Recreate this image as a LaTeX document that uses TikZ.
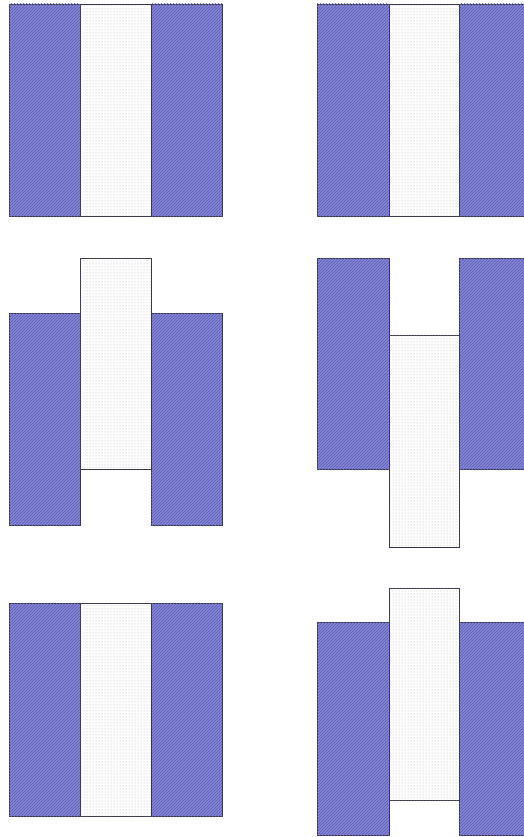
\documentclass[tikz,border=0pt]{standalone}
\usetikzlibrary{patterns}
\definecolor{slabblue}{RGB}{134,134,216}
\definecolor{slabline}{RGB}{92,92,178}
\definecolor{edgegray}{RGB}{55,55,70}

\begin{document}
\begin{tikzpicture}[
    x=1pt, y=-1pt,
    slab/.style={draw=edgegray, line width=0.8pt, fill=slabblue, postaction={pattern=north east lines, pattern color=slabline}},
    core/.style={draw=edgegray, line width=0.8pt, fill=white, postaction={pattern=dots, pattern color=gray!60}}
]
\useasboundingbox (0,0) rectangle (524,837);
\clip (0,0) rectangle (524,837);

% Row 1, aligned
\draw[slab] (9,4) rectangle (80,216);
\draw[slab] (151,4) rectangle (222,216);
\draw[core] (80,4) rectangle (151,216);

\draw[slab] (317,4) rectangle (389,216);
\draw[slab] (459,4) rectangle (530,216);
\draw[core] (389,4) rectangle (459,216);

% Row 2, core shifted up / down
\draw[slab] (9,313) rectangle (80,525);
\draw[slab] (151,313) rectangle (222,525);
\draw[core] (80,258) rectangle (151,469);

\draw[slab] (317,258) rectangle (389,469);
\draw[slab] (459,258) rectangle (530,469);
\draw[core] (389,335) rectangle (459,547);

% Row 3
\draw[slab] (9,603) rectangle (80,816);
\draw[slab] (151,603) rectangle (222,816);
\draw[core] (80,603) rectangle (151,816);

\draw[slab] (317,622) rectangle (389,835);
\draw[slab] (459,622) rectangle (530,835);
\draw[core] (389,588) rectangle (459,800);
\end{tikzpicture}
\end{document}
